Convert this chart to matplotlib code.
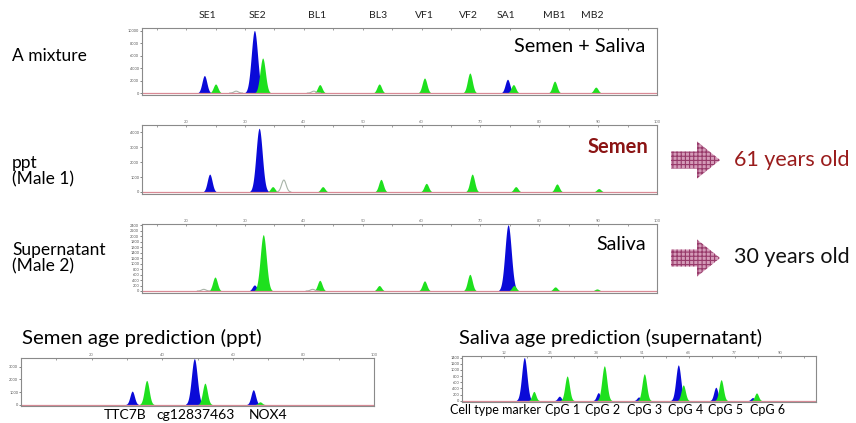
import numpy as np
import matplotlib
matplotlib.use('Agg')
import matplotlib.pyplot as plt
from matplotlib.patches import Polygon

W, H = 856, 423
plt.rcParams['font.family'] = ['Lato', 'DejaVu Sans']
plt.rcParams['hatch.linewidth'] = 0.8

# marker names above the top trace
marker_names = ['SE1', 'SE2', 'BL1', 'BL3', 'VF1', 'VF2', 'SA1', 'MB1', 'MB2']
marker_pos = [23.6, 32.1, 42.3, 52.6, 60.4, 68.0, 74.3, 82.5, 89.0]

# A mixture (Semen + Saliva) trace
mix_pos = [23.1, 25.0, 28.5, 31.6, 33.0, 41.7, 42.7, 52.8, 60.5, 68.2, 74.6, 75.6, 82.6, 89.6]
mix_rfu = [2800, 1450, 300, 10000, 5600, 300, 1350, 1450, 2400, 3200, 2200, 1350, 1900, 950]
mix_dye = ['blue', 'green', 'hollow', 'blue', 'green', 'hollow', 'green', 'green',
           'green', 'green', 'blue', 'green', 'green', 'green']

# ppt (Male 1) trace
ppt_pos = [24.0, 32.4, 34.7, 36.6, 43.2, 53.1, 60.8, 68.6, 76.0, 83.0, 90.1]
ppt_rfu = [1200, 4280, 360, 800, 360, 850, 580, 1200, 360, 540, 230]
ppt_dye = ['blue', 'blue', 'green', 'hollow', 'green', 'green', 'green', 'green',
           'green', 'green', 'green']

# Supernatant (Male 2) trace
sup_pos = [23.0, 24.9, 31.6, 33.1, 41.5, 42.7, 52.8, 60.5, 68.2, 74.7, 75.7, 82.7, 89.8]
sup_rfu = [60, 510, 220, 2060, 60, 390, 200, 370, 610, 2420, 200, 150, 75]
sup_dye = ['hollow', 'green', 'blue', 'green', 'hollow', 'green', 'green', 'green',
           'green', 'blue', 'green', 'green', 'green']

# Semen age prediction (ppt)
semen_pos = [31.5, 35.6, 49.1, 52.1, 65.8, 67.7]
semen_rfu = [1070, 1920, 3650, 1700, 1180, 220]
semen_dye = ['blue', 'green', 'blue', 'green', 'blue', 'green']
semen_labels = ['TTC7B', 'cg12837463', 'NOX4']
semen_label_px = [125, 196, 268]

# Saliva age prediction (supernatant)
saliva_pos = [17.6, 20.3, 27.5, 29.7, 38.5, 40.2, 49.9, 51.5, 61.1, 62.5, 71.7, 73.2, 82.1, 83.2]
saliva_rfu = [1400, 300, 145, 800, 260, 1130, 120, 870, 1160, 510, 435, 680, 100, 250]
saliva_dye = ['blue', 'green'] * 7
saliva_labels = ['Cell type marker', 'CpG 1', 'CpG 2', 'CpG 3', 'CpG 4', 'CpG 5', 'CpG 6']
saliva_label_px = [496, 563, 603, 645, 686, 726, 768]

dye_colors = {'blue': '#0a0ad8', 'green': '#1ee01e'}

fig = plt.figure(figsize=(W / 100, H / 100), dpi=100)


def px_rect(x0, y0, x1, y1):
    return [x0 / W, 1 - y1 / H, (x1 - x0) / W, (y1 - y0) / H]


def draw_trace(rect, pos, rfu, dye, xlim, ytop, ystep, xmajor, sigma, xlabels=True):
    ax = fig.add_axes(px_rect(*rect))
    x = np.linspace(xlim[0], xlim[1], 4000)
    for p, h, d in zip(pos, rfu, dye):
        s = sigma * (1 + 0.5 * h / ytop)
        y = h * np.exp(-0.5 * ((x - p) / s) ** 2)
        m = y > h * 0.01
        if d == 'hollow':
            ax.plot(x[m], y[m], color='#a8b4a8', lw=0.8)
        else:
            ax.fill_between(x[m], 0, y[m], color=dye_colors[d], lw=0)
    ax.axhline(0, color='#d98a96', lw=0.9)
    ax.set_xlim(xlim)
    ax.set_ylim(-0.03 * ytop, ytop)
    for sp in ax.spines.values():
        sp.set_color('#8a8a8a')
        sp.set_linewidth(0.8)
    ax.xaxis.tick_top()
    ax.set_xticks(xmajor)
    step = xmajor[1] - xmajor[0]
    ax.set_xticks(np.arange(xmajor[0] - step / 2, xlim[1], step / 2), minor=True)
    ax.tick_params(axis='x', which='both', direction='in', length=1.5, width=0.5,
                   colors='#777777', labelsize=3, pad=1, labeltop=xlabels)
    ax.set_yticks(np.arange(0, ytop, ystep))
    ax.tick_params(axis='y', direction='out', length=1.5, width=0.5, colors='#555555',
                   labelsize=2.8, pad=0.5)
    return ax


panel_x = list(range(20, 101, 10))
draw_trace((142, 28, 657, 95), mix_pos, mix_rfu, mix_dye, (12.5, 100), 10400, 2000,
           panel_x, 0.36, xlabels=False)
draw_trace((142, 125, 657, 194), ppt_pos, ppt_rfu, ppt_dye, (12.5, 100), 4500, 1000,
           panel_x, 0.36)
draw_trace((142, 224, 657, 293), sup_pos, sup_rfu, sup_dye, (12.5, 100), 2450, 200,
           panel_x, 0.36)
draw_trace((21, 358, 374, 406), semen_pos, semen_rfu, semen_dye, (0, 100), 3700, 1000,
           list(range(20, 101, 20)), 0.55)
draw_trace((462, 356, 816, 402), saliva_pos, saliva_rfu, saliva_dye, (0, 100), 1450, 200,
           list(range(12, 101, 13)), 0.5)

# overlay for annotations in pixel space
ov = fig.add_axes([0, 0, 1, 1])
ov.set_xlim(0, W)
ov.set_ylim(H, 0)
ov.axis('off')

# marker names on top, positioned through the top panel's data scale
for name, p in zip(marker_names, marker_pos):
    ov.text(142 + (p - 12.5) * 515 / 87.5, 16, name, ha='center', va='center',
            fontsize=7.5, color='#222222')

ov.text(12, 56, 'A mixture', fontsize=12.5, va='center', ha='left')
ov.text(12, 171, 'ppt\n(Male 1)', fontsize=12.5, va='center', ha='left', linespacing=1.0)
ov.text(12, 258, 'Supernatant\n(Male 2)', fontsize=12.5, va='center', ha='left', linespacing=1.0)

ov.text(645, 46, 'Semen + Saliva', fontsize=14.3, ha='right', va='center')
ov.text(648, 147, 'Semen', fontsize=14.5, ha='right', va='center', color='#8b1414',
        fontweight='bold')
ov.text(646, 244, 'Saliva', fontsize=14, ha='right', va='center')

for yc in (160, 258):
    shaft_top, shaft_bot = yc - 8.5, yc + 8.5
    head_top, head_bot = yc - 18.5, yc + 18.5
    arrow = Polygon([(671, shaft_top), (697, shaft_top), (697, head_top), (720, yc),
                     (697, head_bot), (697, shaft_bot), (671, shaft_bot)],
                    closed=True, facecolor='#d49bb8', edgecolor='#973a6a',
                    hatch='++++', lw=0)
    ov.add_patch(arrow)

ov.text(734, 160, '61 years old', fontsize=15.5, va='center', ha='left', color='#9a1c1c')
ov.text(734, 257, '30 years old', fontsize=15.5, va='center', ha='left', color='#111111')

ov.text(22, 338, 'Semen age prediction (ppt)', fontsize=14.7, va='center', ha='left')
ov.text(459, 338, 'Saliva age prediction (supernatant)', fontsize=14.5, va='center', ha='left')

for lab, xp in zip(semen_labels, semen_label_px):
    ov.text(xp, 415, lab, fontsize=10, ha='center', va='center')
for lab, xp in zip(saliva_labels, saliva_label_px):
    ov.text(xp, 410, lab, fontsize=9, ha='center', va='center')

fig.savefig('out.png', dpi=100)
